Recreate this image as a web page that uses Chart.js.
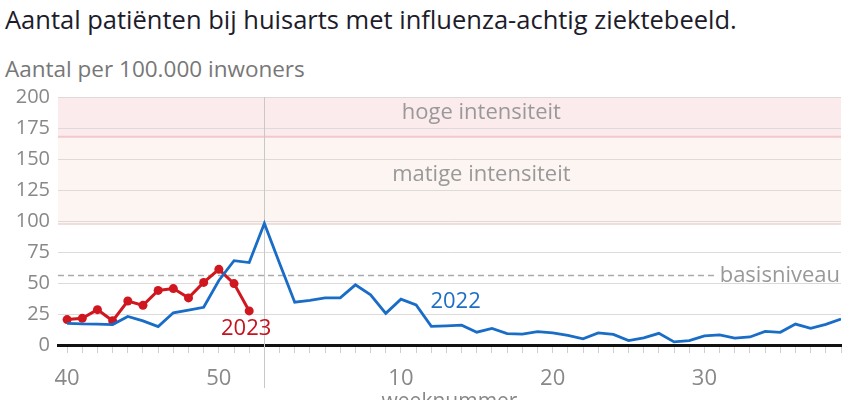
<!DOCTYPE html>
<html>
<head>
<meta charset="utf-8">
<script src="https://cdn.jsdelivr.net/npm/chart.js@4"></script>
<style>
    html, body { margin: 0; padding: 0; background: #fff; overflow: hidden; }
    body { width: 854px; height: 400px; position: relative; font-family: 'Open Sans', sans-serif; }
    #title { position: absolute; left: 5px; top: 2px; font-size: 25.5px; color: #1c1c2a; white-space: nowrap; }
    #subtitle { position: absolute; left: 5px; top: 53px; font-size: 22.5px; color: #777; white-space: nowrap; }
    #fluChart { position: absolute; left: 0; top: 0; }
</style>
</head>
<body>
<div id="title">Aantal patiënten bij huisarts met influenza-achtig ziektebeeld.</div>
<div id="subtitle">Aantal per 100.000 inwoners</div>
<canvas id="fluChart" width="854" height="430"></canvas>
<script>
// weeknummers, seizoen loopt van week 40 t/m week 39
const weeks = [40, 41, 42, 43, 44, 45, 46, 47, 48, 49, 50, 51, 52,
    1, 2, 3, 4, 5, 6, 7, 8, 9, 10, 11, 12, 13, 14, 15, 16, 17, 18, 19,
    20, 21, 22, 23, 24, 25, 26, 27, 28, 29, 30, 31, 32, 33, 34, 35, 36, 37, 38, 39];
const labeledWeeks = [40, 50, 10, 20, 30];

const season2022 = [17.5, 17, 16.8, 16.5, 23, 19.5, 14.8, 26, 28.2, 30.4, 52, 68, 66.5,
    98, 66, 34.5, 36, 38, 38, 48.5, 40.5, 25.5, 37, 32.3, 15, 15.5, 16, 10.3, 13.3, 9.2, 8.7, 10.8,
    9.8, 7.8, 5, 9.8, 8.5, 3.5, 5.8, 9.4, 2.5, 3.5, 7.3, 8.1, 5.6, 6.5, 11, 10.2, 16.9, 13.4, 16.7, 21];
const season2023 = [20.5, 21.5, 28.5, 19.5, 35.5, 32, 44, 45.5, 38, 50.5, 61, 49.5, 27.5];

const basisniveau = 56;
const matigeLevel = 97.5;
const hogeLevel = 168;
const yMax = 200;

const overlay = {
    id: 'overlay',
    beforeDraw(chart) {
        const {ctx, chartArea: a, scales: {y}} = chart;
        const yHoge = y.getPixelForValue(hogeLevel);
        const yMatige = y.getPixelForValue(matigeLevel);
        ctx.save();
        ctx.fillStyle = '#fcf5f2';
        ctx.fillRect(a.left, yHoge, a.width, yMatige - yHoge);
        ctx.fillStyle = '#fcebec';
        ctx.fillRect(a.left, a.top, a.width, yHoge - a.top);
        ctx.restore();
    },
    beforeDatasetsDraw(chart) {
        const {ctx, chartArea: a, scales: {x, y}} = chart;
        ctx.save();
        // grenslijnen van de intensiteitsbanden
        ctx.strokeStyle = '#f3c8cc';
        ctx.lineWidth = 2;
        ctx.beginPath();
        ctx.moveTo(a.left, y.getPixelForValue(hogeLevel));
        ctx.lineTo(a.right, y.getPixelForValue(hogeLevel));
        ctx.stroke();
        ctx.strokeStyle = '#ecd5d3';
        ctx.lineWidth = 1.5;
        ctx.beginPath();
        ctx.moveTo(a.left, y.getPixelForValue(matigeLevel));
        ctx.lineTo(a.right, y.getPixelForValue(matigeLevel));
        ctx.stroke();

        // jaarwisseling
        const xNewYear = Math.round(x.getPixelForValue(weeks.indexOf(1))) + 0.5;
        ctx.strokeStyle = '#c8c8c8';
        ctx.lineWidth = 1;
        ctx.beginPath();
        ctx.moveTo(xNewYear, a.top);
        ctx.lineTo(xNewYear, a.bottom + 43);
        ctx.stroke();

        ctx.font = '22px "Open Sans"';
        ctx.fillStyle = '#999';
        ctx.textAlign = 'center';
        ctx.textBaseline = 'middle';
        ctx.fillText('hoge intensiteit', x.getPixelForValue(27.3), y.getPixelForValue(187));
        ctx.fillText('matige intensiteit', x.getPixelForValue(27.3), y.getPixelForValue(137));

        // basisniveau
        const yBase = y.getPixelForValue(basisniveau);
        ctx.textAlign = 'right';
        ctx.fillText('basisniveau', a.right - 1, yBase);
        const textW = ctx.measureText('basisniveau').width;
        ctx.strokeStyle = '#aaa';
        ctx.lineWidth = 1.5;
        ctx.setLineDash([6, 4]);
        ctx.beginPath();
        ctx.moveTo(a.left, yBase);
        ctx.lineTo(a.right - textW - 5, yBase);
        ctx.stroke();
        ctx.setLineDash([]);

        ctx.font = '22px "Open Sans"';
        ctx.textAlign = 'center';
        ctx.fillStyle = '#1f6ec6';
        ctx.fillText('2022', x.getPixelForValue(25.6), y.getPixelForValue(35));
        ctx.fillStyle = '#c4121f';
        ctx.fillText('2023', x.getPixelForValue(11.8), y.getPixelForValue(13));
        ctx.restore();
    }
};

const ctx = document.getElementById('fluChart').getContext('2d');
new Chart(ctx, {
    type: 'line',
    data: {
        datasets: [{
            label: '2022',
            data: season2022.map((v, i) => ({x: i, y: v})),
            borderColor: '#1a6dc6',
            borderWidth: 2.8,
            pointRadius: 0,
            tension: 0
        }, {
            label: '2023',
            data: season2023.map((v, i) => ({x: i, y: v})),
            borderColor: '#d0171f',
            backgroundColor: '#d0171f',
            borderWidth: 3,
            pointRadius: 4.5,
            pointBorderWidth: 0,
            tension: 0
        }]
    },
    options: {
        responsive: false,
        animation: false,
        layout: {
            padding: {top: 97, right: 12, left: 0, bottom: 0}
        },
        plugins: {
            legend: {display: false},
            tooltip: {enabled: false}
        },
        scales: {
            x: {
                type: 'linear',
                min: -0.6,
                max: weeks.length - 1,
                afterFit(scale) { scale.height = 85; },
                border: {display: true, color: '#111', width: 3},
                grid: {
                    drawOnChartArea: false,
                    drawTicks: true,
                    tickLength: 8,
                    tickColor: '#cfcfcf'
                },
                ticks: {
                    stepSize: 1,
                    includeBounds: false,
                    autoSkip: false,
                    maxRotation: 0,
                    padding: 13,
                    color: '#888',
                    font: {family: 'Open Sans', size: 22},
                    callback: value => labeledWeeks.includes(weeks[value]) ? String(weeks[value]) : ''
                },
                title: {
                    display: true,
                    text: 'weeknummer',
                    color: '#888',
                    font: {family: 'Open Sans', size: 21},
                    padding: {top: 0, bottom: 15}
                }
            },
            y: {
                min: 0,
                max: yMax,
                afterFit(scale) { scale.width = 58; },
                border: {display: false},
                grid: {
                    drawTicks: false,
                    color: c => c.tick.value === 0 ? 'rgba(0,0,0,0)' : '#dedada'
                },
                ticks: {
                    stepSize: 25,
                    padding: 8,
                    color: '#888',
                    font: {family: 'Open Sans', size: 20}
                }
            }
        }
    },
    plugins: [overlay]
});
</script>
</body>
</html>
